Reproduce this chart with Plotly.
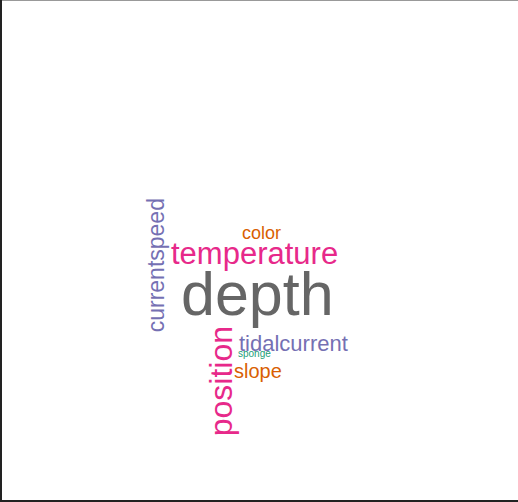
import plotly.graph_objects as go

# Word cloud data
words = ["depth", "temperature", "position", "currentspeed", "tidalcurrent", "slope", "color", "sponge"]
freqs = [61, 31, 32, 23, 22, 20, 18, 10]
colors = ["#666666", "#E7298A", "#E7298A", "#7570B3", "#7570B3", "#D95F02", "#D95F02", "#1B9E77"]
angles = [0, 0, -90, -90, 0, 0, 0, 0]
# word-cloud layout (word centres, pixel space)
layout_x = [257, 254, 220.6, 156.3, 293.8, 258.3, 261, 254]
layout_y = [294, 253, 381.7, 265, 343, 371, 233, 353.2]

W, H = 518, 502
size_scale = 1.0

fig = go.Figure()
fig.add_trace(go.Scatter(x=[0, W], y=[0, H], mode="markers",
                         marker=dict(opacity=0), hoverinfo="skip", showlegend=False))

for w, f, c, a, x, y in zip(words, freqs, colors, angles, layout_x, layout_y):
    fig.add_annotation(x=x, y=y, xref="x", yref="y", text=w, showarrow=False,
                       textangle=a, xanchor="center", yanchor="middle",
                       font=dict(family="Liberation Sans, Arial, sans-serif",
                                 size=f * size_scale, color=c))

# frame
fig.add_shape(type="line", xref="paper", yref="paper", x0=0, x1=1, y0=1, y1=1,
              line=dict(color="#999999", width=2))
fig.add_shape(type="line", xref="paper", yref="paper", x0=0, x1=1, y0=0, y1=0,
              line=dict(color="#222222", width=4))
fig.add_shape(type="line", xref="paper", yref="paper", x0=0, x1=0, y0=0, y1=1,
              line=dict(color="#222222", width=4))

fig.update_xaxes(visible=False, range=[0, W], fixedrange=True)
fig.update_yaxes(visible=False, range=[H, 0], fixedrange=True)
fig.update_layout(width=W, height=H, autosize=False,
                  margin=dict(l=0, r=0, t=0, b=0),
                  paper_bgcolor="white", plot_bgcolor="white")

fig.write_html("out.html", config={"displayModeBar": False},
               post_script="document.body.style.margin='0';document.body.style.overflow='hidden';")
